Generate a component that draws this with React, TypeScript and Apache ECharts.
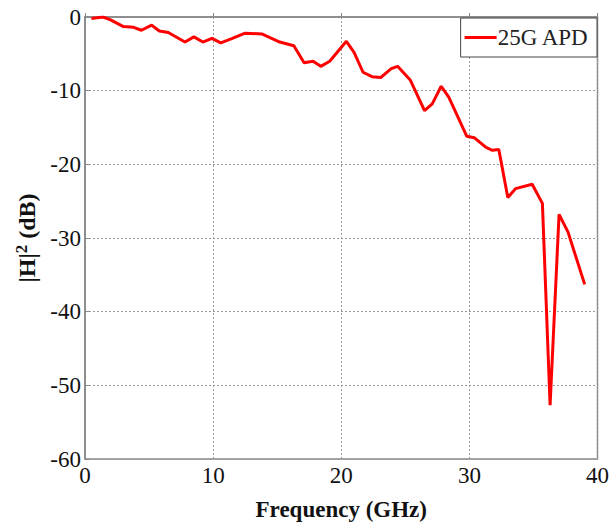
import React, { useEffect, useRef } from "react";
import * as echarts from "echarts";

const freqGHz = [0.5, 1.4, 2.0, 3.0, 3.8, 4.4, 5.2, 5.8, 6.5, 7.8, 8.5, 9.2, 9.9, 10.6, 11.5, 12.5, 13.8, 15.2, 16.3, 17.1, 17.8, 18.4, 19.1, 20.4, 21.0, 21.7, 22.4, 23.1, 23.9, 24.4, 25.4, 26.5, 27.1, 27.8, 28.4, 29.8, 30.4, 31.3, 31.8, 32.3, 33.0, 33.6, 34.9, 35.7, 36.3, 37.0, 37.7, 39.0];
const responseDb = [-0.2, 0, -0.4, -1.3, -1.4, -1.8, -1.1, -1.9, -2.1, -3.4, -2.7, -3.4, -2.9, -3.5, -2.9, -2.2, -2.3, -3.4, -3.9, -6.2, -6.0, -6.7, -6.0, -3.3, -4.8, -7.5, -8.1, -8.2, -7.0, -6.7, -8.6, -12.7, -11.8, -9.4, -10.9, -16.2, -16.4, -17.7, -18.1, -18.0, -24.5, -23.3, -22.7, -25.3, -52.7, -26.8, -29.2, -36.3];
const seriesName = "25G APD";

export default function App() {
  const ref = useRef<HTMLDivElement>(null);
  useEffect(() => {
    if (!ref.current) return;
    const chart = echarts.init(ref.current, null, { renderer: "svg" });
    const font = "'Liberation Serif', 'Times New Roman', serif";
    chart.setOption({
      animation: false,
      backgroundColor: "#ffffff",
      grid: {
        left: 85,
        right: 13,
        top: 17,
        bottom: 67,
        show: true,
        borderColor: "#888",
        borderWidth: 1.5,
        backgroundColor: "transparent",
      },
      legend: {
        show: true,
        right: 15,
        top: 18,
        orient: "vertical",
        itemWidth: 32,
        itemHeight: 3,
        itemGap: 0,
        padding: [8, 8, 8, 4],
        borderColor: "#444",
        borderWidth: 1,
        backgroundColor: "#fff",
        textStyle: { fontFamily: font, fontSize: 23, color: "#222", padding: [0, 0, 0, -4] },
        data: [{ name: seriesName, icon: "rect" }],
      },
      xAxis: {
        type: "value",
        min: 0,
        max: 40,
        interval: 10,
        name: "Frequency (GHz)",
        nameLocation: "middle",
        nameGap: 39,
        nameTextStyle: { fontFamily: font, fontSize: 23, fontWeight: "bold", color: "#111" },
        axisLine: { show: true, lineStyle: { color: "#888", width: 1.5 } },
        axisTick: { show: true, inside: true, length: 4, lineStyle: { color: "#888" } },
        axisLabel: { fontFamily: font, fontSize: 23, color: "#111", margin: 5 },
        splitLine: { show: true, lineStyle: { color: "#999", type: [2, 2], width: 1 } },
      },
      yAxis: {
        type: "value",
        min: -60,
        max: 0,
        interval: 10,
        name: "|H|{sup|2} (dB)",
        nameLocation: "middle",
        nameRotate: 90,
        nameGap: 30,
        nameTextStyle: {
          fontFamily: font,
          fontSize: 24,
          fontWeight: "bold",
          color: "#111",
          rich: {
            sup: { fontFamily: font, fontSize: 17, fontWeight: "bold", color: "#111", padding: [0, 0, 12, 0] },
          },
        },
        axisLine: { show: true, lineStyle: { color: "#888", width: 1.5 } },
        axisTick: { show: true, inside: true, length: 4, lineStyle: { color: "#888" } },
        axisLabel: { fontFamily: font, fontSize: 23, color: "#111", margin: 4 },
        splitLine: { show: true, lineStyle: { color: "#999", type: [2, 2], width: 1 } },
      },
      series: [
        {
          name: seriesName,
          type: "line",
          data: freqGHz.map((f, i) => [f, responseDb[i]]),
          showSymbol: false,
          symbol: "none",
          lineStyle: { color: "#ff0000", width: 3 },
          itemStyle: { color: "#ff0000" },
        },
      ],
    });
    return () => chart.dispose();
  }, []);
  return <div ref={ref} style={{ position: "absolute", left: 0, top: 0, width: 612, height: 526 }} />;
}
